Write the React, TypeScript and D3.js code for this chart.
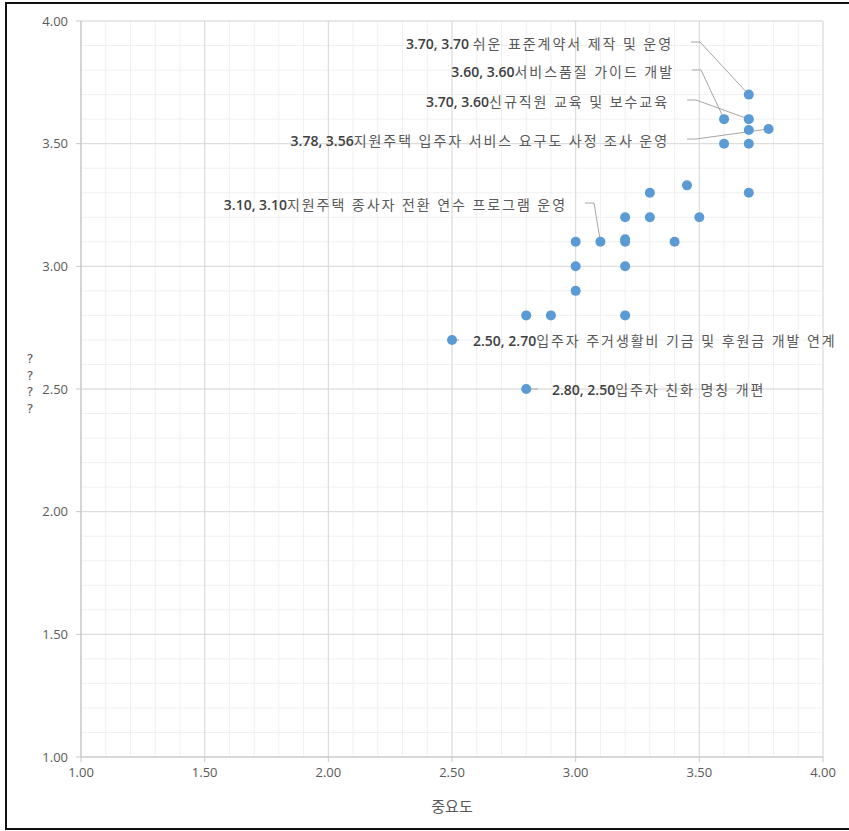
import React from "react";
import * as d3 from "d3";

// 중요도 (x) and the second (y) score for every item
const importance = [3.7, 3.6, 3.7, 3.7, 3.78, 3.6, 3.7, 3.45, 3.3, 3.7, 3.2, 3.3, 3.5, 3.0, 3.1, 3.2, 3.2, 3.4, 3.0, 3.2, 3.0, 2.8, 2.9, 3.2, 2.5, 2.8];
const score = [3.7, 3.6, 3.6, 3.556, 3.56, 3.5, 3.5, 3.33, 3.3, 3.3, 3.2, 3.2, 3.2, 3.1, 3.1, 3.11, 3.1, 3.1, 3.0, 3.0, 2.9, 2.8, 2.8, 2.8, 2.7, 2.5];

// labelled items: index into the arrays above, numeric text, item name
const labelIndex = [0, 1, 2, 4, 14, 24, 25];
const labelNumbers = ["3.70, 3.70 ", "3.60, 3.60", "3.70, 3.60", "3.78, 3.56", "3.10, 3.10", "2.50, 2.70", "2.80, 2.50"];
const labelNames = [
  "쉬운 표준계약서 제작 및 운영",
  "서비스품질 가이드 개발",
  "신규직원 교육 및 보수교육",
  "지원주택 입주자 서비스 요구도 사정 조사 운영",
  "지원주택 종사자 전환 연수 프로그램 운영",
  "입주자 주거생활비 기금 및 후원금 개발 연계",
  "입주자 친화 명칭 개편",
];

const tickValues = [1.0, 1.5, 2.0, 2.5, 3.0, 3.5, 4.0];
const xTitle = "중요도";
const yTitle = ["?", "?", "?", "?"];

// label layout (pixels): anchor side, text x, text center y
const labelLayout = [
  { side: "end", x: 673, y: 44 },
  { side: "end", x: 674, y: 72 },
  { side: "end", x: 669, y: 102 },
  { side: "end", x: 669, y: 141 },
  { side: "end", x: 567, y: 205 },
  { side: "start", x: 473, y: 341 },
  { side: "start", x: 552, y: 390 },
];

const FONT = "'Open Sans', 'Noto Sans CJK KR', sans-serif";

export default function App() {
  const x = d3.scaleLinear().domain([1, 4]).range([81, 823]);
  const y = d3.scaleLinear().domain([1, 4]).range([757, 21]);
  const minor = d3.range(10, 41).map((v) => v / 10);
  const fmt = d3.format(".2f");

  return (
    <svg
      width={849}
      height={831}
      style={{ position: "absolute", left: 0, top: 0, background: "#fff" }}
      fontFamily={FONT}
    >
      <rect x={6} y={3} width={850} height={826} fill="#fff" stroke="#111" strokeWidth={2} />
      {/* minor grid */}
      {minor.map((v) => (
        <g key={"m" + v}>
          <line x1={x(v)} x2={x(v)} y1={y(1)} y2={y(4)} stroke="#f0f0f0" strokeWidth={1} />
          <line x1={x(1)} x2={x(4)} y1={y(v)} y2={y(v)} stroke="#f0f0f0" strokeWidth={1} />
        </g>
      ))}
      {/* major grid */}
      {tickValues.map((v) => (
        <g key={"M" + v}>
          <line x1={x(v)} x2={x(v)} y1={y(1)} y2={y(4)} stroke="#d9d9d9" strokeWidth={1} />
          <line x1={x(1)} x2={x(4)} y1={y(v)} y2={y(v)} stroke="#d9d9d9" strokeWidth={1} />
        </g>
      ))}
      {/* axes */}
      <line x1={x(1)} x2={x(4)} y1={y(1)} y2={y(1)} stroke="#c8c8c8" strokeWidth={1.2} />
      <line x1={x(1)} x2={x(1)} y1={y(1)} y2={y(4)} stroke="#c8c8c8" strokeWidth={1.2} />
      {tickValues.map((v) => (
        <g key={"t" + v}>
          <line x1={x(v)} x2={x(v)} y1={y(1)} y2={y(1) + 5} stroke="#c8c8c8" />
          <line x1={x(1) - 5} x2={x(1)} y1={y(v)} y2={y(v)} stroke="#c8c8c8" />
          <text x={x(v)} y={y(1) + 20} textAnchor="middle" fontSize={13} fill="#595959">
            {fmt(v)}
          </text>
          <text x={68} y={y(v) + 4.5} textAnchor="end" fontSize={13} fill="#595959">
            {fmt(v)}
          </text>
        </g>
      ))}
      <text x={452} y={812} textAnchor="middle" fontSize={15} fill="#595959">
        {xTitle}
      </text>
      {yTitle.map((c, i) => (
        <text
          key={"yt" + i}
          x={30}
          y={363 + i * 16.7}
          textAnchor="middle"
          fontSize={13}
          fontFamily="'DejaVu Sans', sans-serif"
          fill="#595959"
        >
          {c}
        </text>
      ))}
      {/* leader lines */}
      {labelIndex.map((idx, i) => {
        const L = labelLayout[i];
        const px = x(importance[idx]);
        const py = y(score[idx]);
        if (L.side === "end") {
          const sx = L.x + 18;
          const ex = sx + 9;
          return (
            <polyline
              key={"ld" + i}
              points={`${sx},${L.y - 2} ${ex},${L.y - 2} ${px},${py}`}
              fill="none"
              stroke="#a6a6a6"
              strokeWidth={1}
            />
          );
        }
        return (
          <line key={"ld" + i} x1={px} y1={py} x2={L.x - 14} y2={L.y - 1} stroke="#a6a6a6" strokeWidth={1} />
        );
      })}
      {/* points */}
      {importance.map((v, i) => (
        <circle key={"p" + i} cx={x(v)} cy={y(score[i])} r={5} fill="#5b9bd5" />
      ))}
      {/* labels */}
      {labelIndex.map((idx, i) => {
        const L = labelLayout[i];
        return (
          <text key={"lb" + i} x={L.x} y={L.y + 5} textAnchor={L.side} fontSize={14}>
            <tspan fill="#404040" fontWeight={600}>{labelNumbers[i]}</tspan>
            <tspan fill="#595959" fontSize={14} letterSpacing={1.95}>
              {labelNames[i]}
            </tspan>
          </text>
        );
      })}
    </svg>
  );
}
